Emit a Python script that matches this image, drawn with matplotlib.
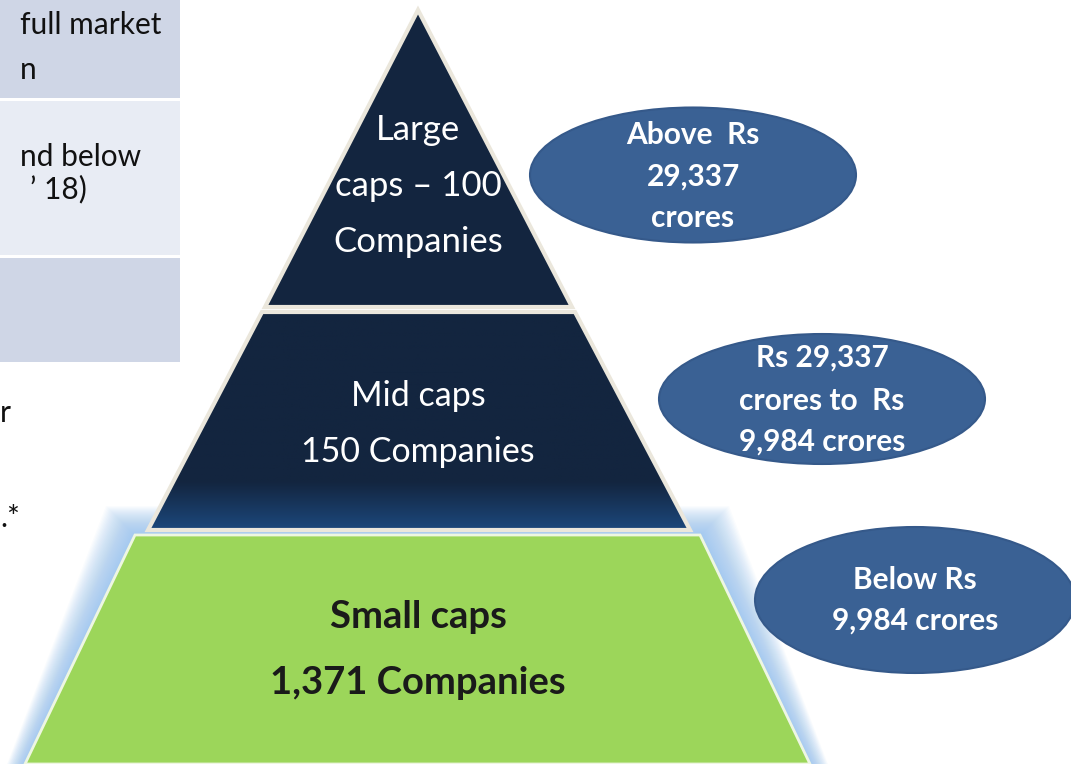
import numpy as np
import matplotlib.pyplot as plt
from matplotlib.patches import Polygon, Ellipse

# pyramid content
tiers = ['Large caps', 'Mid caps', 'Small caps']
companies = ['100', '150', '1,371']
cutoffs = ['29,337', '9,984']  # Rs crores

# left table fragments (slide is cropped)
table_lines = [['full market', 'n'], ['nd below', '\u2019 18)'], ['', '']]

plt.rcParams['font.family'] = ['Lato', 'DejaVu Sans']

fig = plt.figure(figsize=(10.71, 7.64), dpi=100)
ax = fig.add_axes([0, 0, 1, 1])
ax.set_xlim(0, 1071)
ax.set_ylim(764, 0)
ax.axis('off')

navy = '#13253f'
cream = '#ebe7dc'
green = '#9cd65a'
oval = '#3a6194'
ink = '#111111'

# left table rows
rows = [(0, 98, '#cfd6e6'), (101, 255, '#e8ecf4'), (258, 362, '#cfd6e6')]
for (y0, y1, c) in rows:
    ax.add_patch(plt.Rectangle((0, y0), 180, y1 - y0, color=c, lw=0))
ax.text(20, 25, table_lines[0][0], fontsize=21.5, va='center', color=ink)
ax.text(20, 70, table_lines[0][1], fontsize=21.5, va='center', color=ink)
ax.text(20, 157, table_lines[1][0], fontsize=21.5, va='center', color=ink)
ax.text(30, 189, table_lines[1][1], fontsize=21.5, va='center', color=ink)
ax.text(0, 413, 'r', fontsize=21.5, va='center', color=ink)
ax.text(0, 518, '.*', fontsize=21.5, va='center', color=ink)

# soft glow around the green tier
green_pts = np.array([[135, 535], [700, 535], [810, 764], [25, 764]])
for d in range(1, 30):
    g = np.array([[135 - d, 535 - d], [700 + d, 535 - d], [810 + d, 764 + d], [25 - d, 764 + d]])
    ax.add_patch(Polygon(g, closed=True, color='#8dbdf0', alpha=0.045, lw=0))

# top tier
top_pts = np.array([[418, 10], [572, 307], [265, 307]])
ax.add_patch(Polygon(top_pts, closed=True, facecolor=navy, edgecolor=cream, lw=3,
                     joinstyle='miter', zorder=2))

# middle tier with gradient at bottom
mid_pts = np.array([[262, 312], [575, 312], [690, 530], [148, 530]])
grad = np.linspace(0, 1, 200)
grad = np.clip((grad - 0.78) / 0.22, 0, 1)[:, None]
c0 = np.array([0x13, 0x25, 0x3f]) / 255
c1 = np.array([0x1c, 0x48, 0x7c]) / 255
img = c0 + grad[:, :, None] * (c1 - c0)
img = np.repeat(img, 2, axis=1)
im = ax.imshow(img, extent=(148, 690, 530, 312), aspect='auto', zorder=2)
im.set_clip_path(Polygon(mid_pts, closed=True, transform=ax.transData))
ax.add_patch(Polygon(mid_pts, closed=True, facecolor='none', edgecolor=cream, lw=3, zorder=3))

# bottom tier
ax.add_patch(Polygon(green_pts, closed=True, facecolor=green, edgecolor='#eef6e2', lw=2, zorder=3))

# tier labels
ax.text(418, 130, tiers[0].split()[0], fontsize=25, color='white', ha='center', va='center', zorder=4)
ax.text(418, 186, tiers[0].split()[1] + ' \u2013 ' + companies[0], fontsize=25, color='white',
        ha='center', va='center', zorder=4)
ax.text(418, 242, 'Companies', fontsize=25, color='white', ha='center', va='center', zorder=4)

ax.text(418, 396, tiers[1], fontsize=24.5, color='white', ha='center', va='center', zorder=4)
ax.text(418, 452, companies[1] + ' Companies', fontsize=24.5, color='white', ha='center', va='center', zorder=4)

ax.text(418, 617, tiers[2], fontsize=27.5, fontweight='bold', color='#1a1a1a', ha='center', va='center', zorder=4)
ax.text(418, 683, companies[2] + ' Companies', fontsize=27.5, fontweight='bold', color='#1a1a1a',
        ha='center', va='center', zorder=4)

# market cap ovals
ovals = [
    ((693, 175), 326, 135, ['Above  Rs', cutoffs[0], 'crores'], [135, 177, 218]),
    ((822, 399), 326, 130, ['Rs ' + cutoffs[0], 'crores to  Rs', cutoffs[1] + ' crores'], [358, 401, 442]),
    ((915, 600), 320, 146, ['Below Rs', cutoffs[1] + ' crores'], [580, 621]),
]
for (cx, cy), w, h, lines, ys in ovals:
    ax.add_patch(Ellipse((cx, cy), w, h, facecolor=oval, edgecolor='#35598a', lw=1.5, zorder=4))
    for t, y in zip(lines, ys):
        ax.text(cx, y, t, fontsize=21.5, fontweight='bold', color='white', ha='center', va='center', zorder=5)

fig.savefig('out.png', dpi=100)
